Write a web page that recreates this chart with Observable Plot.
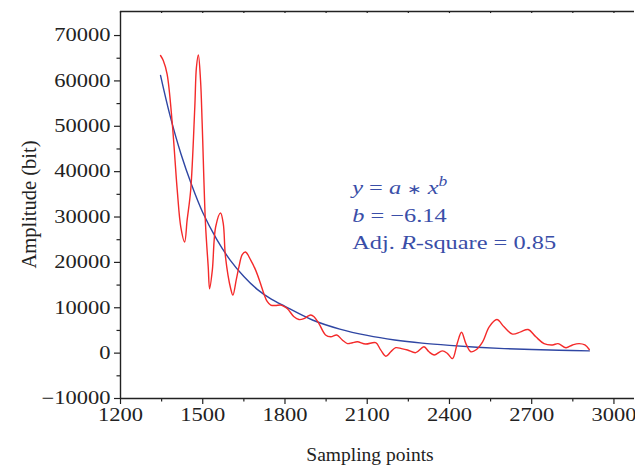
<!DOCTYPE html>
<html>
<head>
<meta charset="utf-8">
<script src="https://cdn.jsdelivr.net/npm/d3@7"></script>
<script src="https://cdn.jsdelivr.net/npm/@observablehq/plot@0.6"></script>
<style>
  body { margin: 0; background: #fff; }
  #chart svg { display: block; }
</style>
</head>
<body>
<div id="chart"></div>
<script>
// Measured signal amplitude against sampling point index
const sampleX = [1346, 1356, 1370, 1389, 1407, 1420, 1434, 1443, 1456, 1471, 1477, 1484, 1492, 1498,
  1510, 1520, 1525, 1535, 1547, 1565, 1575, 1583, 1602, 1610, 1622, 1632, 1644, 1656, 1675, 1693,
  1711, 1723, 1735, 1748, 1765, 1784, 1796, 1809, 1833, 1851, 1869, 1885, 1894, 1906, 1924, 1948,
  1967, 1989, 2009, 2028, 2046, 2064, 2094, 2131, 2149, 2168, 2186, 2204, 2225, 2247, 2277, 2307,
  2325, 2344, 2374, 2393, 2411, 2429, 2444, 2460, 2478, 2496, 2521, 2545, 2573, 2599, 2630, 2660,
  2687, 2715, 2745, 2776, 2796, 2825, 2849, 2873, 2894, 2910];
const amplitude = [65600, 64500, 61500, 50500, 35900, 27800, 24500, 29300, 35900, 54200, 63000, 65700, 60100, 50500,
  28500, 19000, 14200, 18300, 27800, 30900, 28500, 21200, 14200, 12800, 16100, 19000, 21700, 22300, 20500, 18300,
  15300, 13100, 11400, 10600, 10500, 10600, 10300, 9800, 8000, 7400, 7600, 8200, 8400, 8000, 6500, 4000,
  3600, 4000, 2900, 2100, 2300, 2500, 2000, 2300, 700, -700, 300, 1200, 1000, 700, 100, 1400,
  300, -400, 500, -100, -1200, 2300, 4600, 2100, 300, 700, 2500, 5800, 7400, 5800, 4200, 4700,
  5200, 3600, 2100, 1800, 2100, 1200, 1800, 2100, 1800, 800];

// Power-law fit y = a * x^b (b = -6.14)
const fitX = [1346, 1380, 1420, 1460, 1500, 1550, 1600, 1650, 1700, 1750, 1800, 1900, 2000,
  2100, 2200, 2300, 2400, 2500, 2600, 2700, 2800, 2910];
const fitY = [61200, 52500, 44000, 37000, 31000, 25200, 20500, 16900, 14000, 11900, 10300, 7300, 5300,
  3900, 2900, 2200, 1700, 1300, 1000, 800, 650, 500];

// Axis ticks
const xTicks = [1200, 1500, 1800, 2100, 2400, 2700, 3000];
const xMinor = [1350, 1650, 1950, 2250, 2550, 2850];
const yTicks = [-10000, 0, 10000, 20000, 30000, 40000, 50000, 60000, 70000];
const yMinor = [-5000, 5000, 15000, 25000, 35000, 45000, 55000, 65000];

const signal = sampleX.map((x, i) => ({x, y: amplitude[i]}));
const fit = fitX.map((x, i) => ({x, y: fitY[i]}));

const RED = "#f42a2a";
const BLUE = "#2f46a3";
const TEXT_BLUE = "#3a4ea8";
const INK = "#222";
const SERIF = "'Liberation Serif', 'Times New Roman', serif";
const WIDE = 1.25; // horizontal widening of the serif lettering

const xDomain = [1200, 3075];
const yDomain = [-10000, 75300];
const fmt = d => d < 0 ? "\u2212" + Math.abs(d) : String(d);

const plot = Plot.plot({
  width: 635,
  height: 474,
  marginLeft: 120,
  marginRight: 1,
  marginTop: 11,
  marginBottom: 76,
  style: {fontFamily: SERIF, fontSize: "18px", color: INK, background: "#fff"},
  x: {domain: xDomain},
  y: {domain: yDomain},
  marks: [
    Plot.axisX(xTicks, {tickSize: 6, tickPadding: 4, tickFormat: fmt, label: null, fontSize: 18, stroke: INK, strokeWidth: 1.2}),
    Plot.axisX(xMinor, {tickSize: 3.5, text: null, label: null, stroke: INK, strokeWidth: 1.2}),
    Plot.axisY(yTicks, {tickSize: 6, tickPadding: 4, tickFormat: fmt, label: null, fontSize: 18, stroke: INK, strokeWidth: 1.2}),
    Plot.axisY(yMinor, {tickSize: 3.5, text: null, label: null, stroke: INK, strokeWidth: 1.2}),
    Plot.ruleX([xDomain[0]], {stroke: INK, strokeWidth: 1.4}),
    Plot.ruleY([yDomain[0]], {stroke: INK, strokeWidth: 1.4}),
    Plot.ruleY([yDomain[1]], {stroke: INK, strokeWidth: 1.4}),
    Plot.ruleX(xTicks.concat(xMinor), {y1: yDomain[1], y2: yDomain[1] - 450, stroke: INK, strokeWidth: 1.2}),
    Plot.line(fit, {x: "x", y: "y", curve: "catmull-rom", stroke: BLUE, strokeWidth: 1.4}),
    Plot.line(signal, {x: "x", y: "y", curve: "catmull-rom", stroke: RED, strokeWidth: 1.4})
  ]
});

document.getElementById("chart").appendChild(plot);

// Widen the tick labels about their own anchor points
d3.select(plot).selectAll("g[aria-label$='tick label'] text").each(function () {
  const t = d3.select(this);
  let tr = t.attr("transform");
  if (!tr) {
    const x = +t.attr("x") || 0, y = +t.attr("y") || 0;
    t.attr("x", null).attr("y", null);
    tr = `translate(${x},${y})`;
  }
  t.attr("transform", `${tr} scale(${WIDE},1)`);
});

// Axis titles and fit annotation, placed through the plot's scales
const sx = plot.scale("x"), sy = plot.scale("y");
const svg = d3.select(plot);
const [xr0, xr1] = sx.range, [yr0, yr1] = sy.range;

svg.append("text")
  .attr("transform", `translate(${(xr0 + xr1) / 2 - 7},${yr0 + 63})`)
  .attr("text-anchor", "middle")
  .attr("font-family", SERIF).attr("font-size", 19.5).attr("fill", INK)
  .text("Sampling points");

svg.append("text")
  .attr("transform", `translate(36,${(yr0 + yr1) / 2}) rotate(-90)`)
  .attr("text-anchor", "middle")
  .attr("font-family", SERIF).attr("font-size", 20.5).attr("fill", INK)
  .text("Amplitude (bit)");

const ann = svg.append("g")
  .attr("font-family", SERIF).attr("font-size", 19.5).attr("fill", TEXT_BLUE)
  .attr("text-anchor", "start");
const ax = sx.apply(2047);
const line = v => ann.append("text")
  .attr("transform", `translate(${ax},${sy.apply(v)}) scale(${WIDE},1)`);

const l1 = line(35000);
l1.append("tspan").attr("font-style", "italic").text("y");
l1.append("tspan").text(" = ");
l1.append("tspan").attr("font-style", "italic").text("a");
l1.append("tspan").text(" ");
l1.append("tspan").attr("font-size", 14).text("\u2217");
l1.append("tspan").text(" ");
l1.append("tspan").attr("font-style", "italic").text("x");
l1.append("tspan").attr("font-style", "italic").attr("font-size", 14).attr("dy", -8).text("b");

const l2 = line(28700);
l2.append("tspan").attr("font-style", "italic").text("b");
l2.append("tspan").text(" = \u22126.14");

const l3 = line(22800);
l3.append("tspan").text("Adj. ");
l3.append("tspan").attr("font-style", "italic").text("R");
l3.append("tspan").text("-square = 0.85");
</script>
</body>
</html>
